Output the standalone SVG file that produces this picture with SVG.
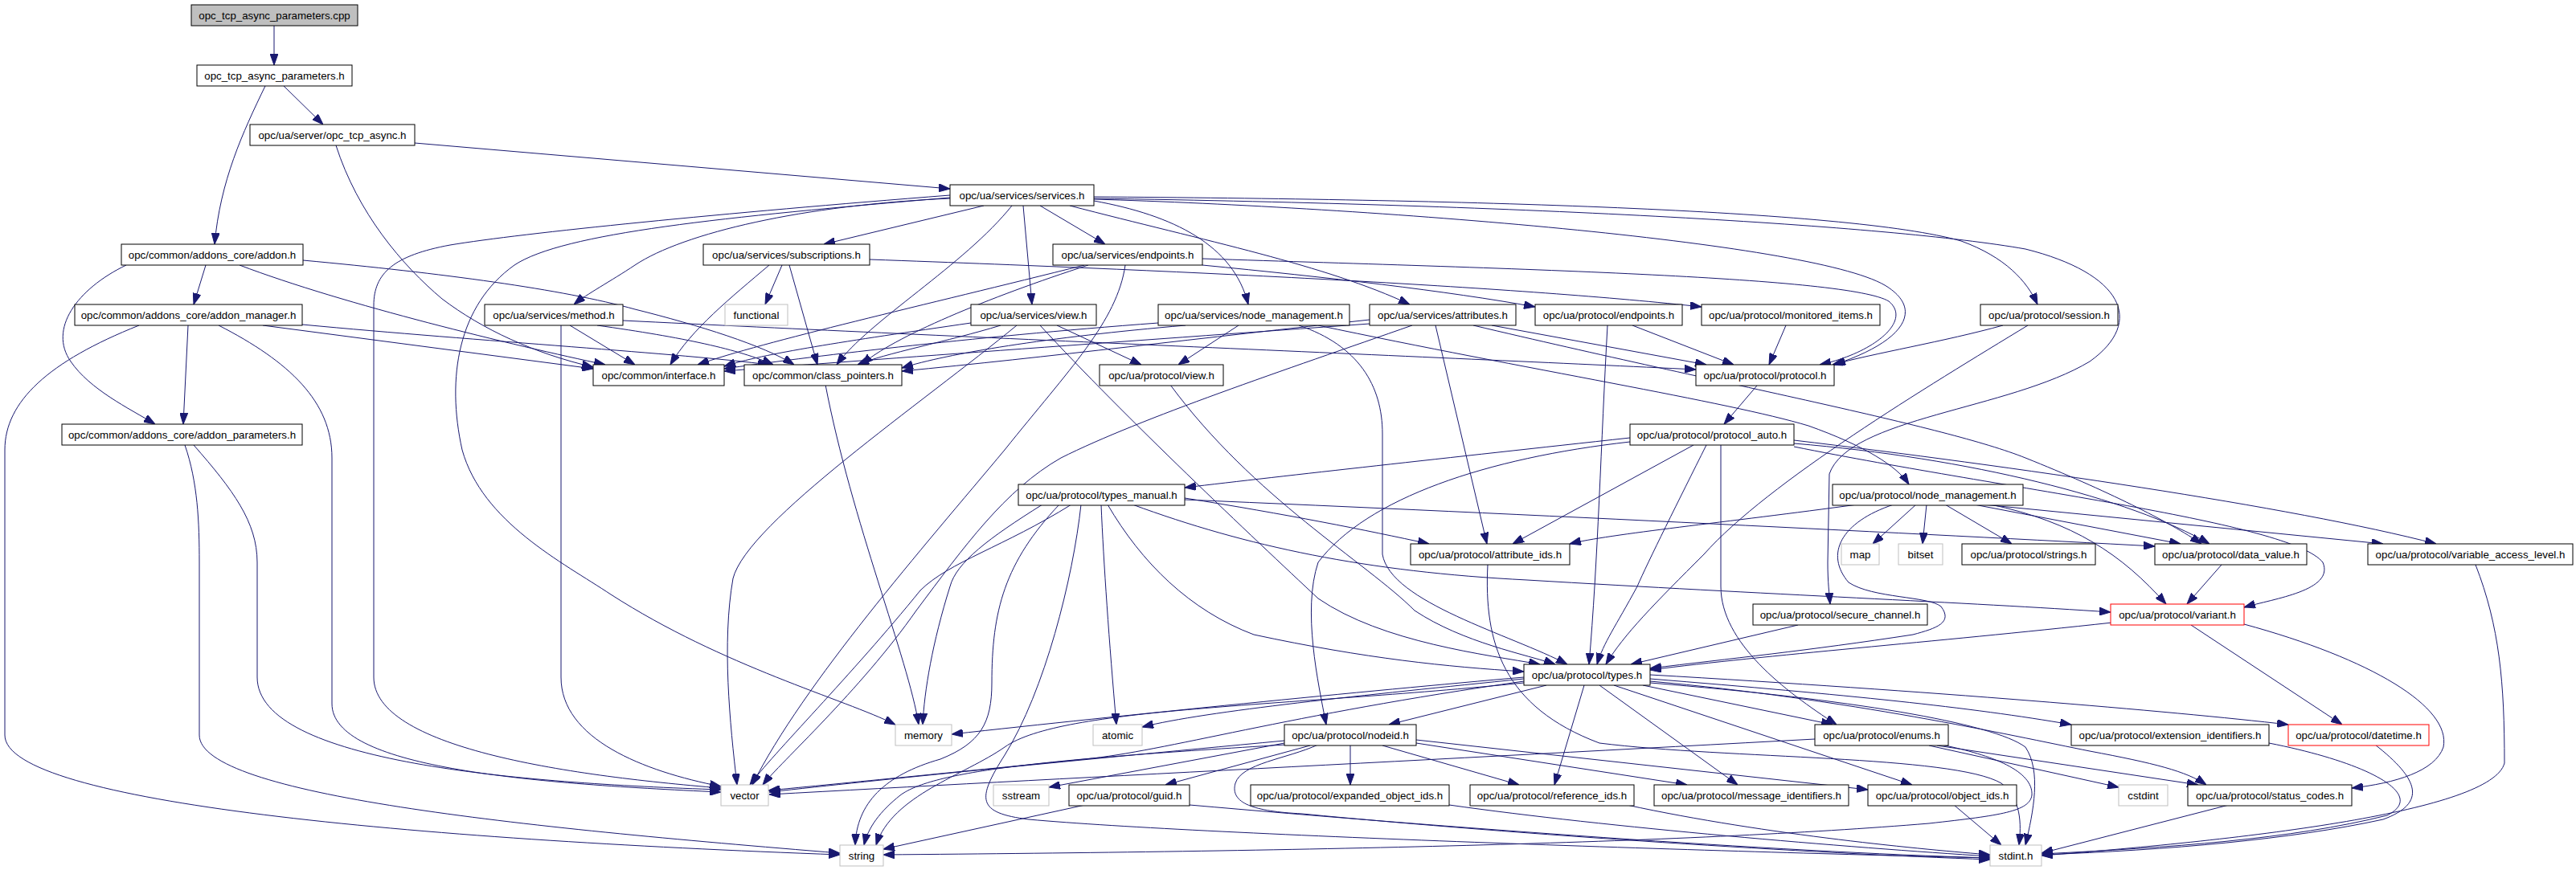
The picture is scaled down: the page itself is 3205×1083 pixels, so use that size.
<svg xmlns="http://www.w3.org/2000/svg" width="3205" height="1083" viewBox="0 0 3205 1083">
<defs>
<style>
.n rect{fill:#fff;stroke:#000;stroke-width:1}
.n.g rect{stroke:#bfbfbf}
.n.r rect{stroke:#ff0000}
.n.c rect{fill:#bfbfbf}
.n text{font-family:"Liberation Sans",Arial,sans-serif;font-size:13.3px;text-anchor:middle;fill:#000}
#edges path{fill:none;stroke:#191970;stroke-width:1;marker-end:url(#a)}
</style>
<marker id="a" viewBox="0 0 14 10" refX="14" refY="5" markerWidth="14" markerHeight="10" orient="auto" markerUnits="userSpaceOnUse"><path d="M0,0 L14,5 L0,10 z" fill="#191970" stroke="#191970" stroke-width="1"/></marker>
</defs>
<rect width="3205" height="1083" fill="#fff"/>
<g id="edges">
<path d="M341,32 L341,81"/>
<path d="M353,107 L402,155"/>
<path d="M330,107 C302,165 274,225 267,304"/>
<path d="M516,178 L1182,235"/>
<path d="M418,181 C445,265 500,330 550,372 C600,410 665,440 738,457"/>
<path d="M256,330 L241,379"/>
<path d="M157,330 C95,360 60,410 88,450 C112,485 160,508 193,528"/>
<path d="M298,330 C430,380 640,430 753,454"/>
<path d="M377,324 C550,340 700,360 790,385 C870,405 950,430 988,454"/>
<path d="M234,405 L228,528"/>
<path d="M173,405 C60,450 6,500 6,560 L6,915 C6,1000 520,1045 1045,1064"/>
<path d="M272,405 C360,450 413,500 413,570 L413,876 C413,955 650,975 897,986"/>
<path d="M327,405 L738,459"/>
<path d="M376,404 C600,425 850,440 957,454"/>
<path d="M230,554 C246,600 248,650 248,700 L248,915 C248,990 650,1030 1045,1062"/>
<path d="M241,554 C290,610 320,650 320,700 L320,843 C320,950 650,975 897,983"/>
<path d="M1224,256 L1025,304"/>
<path d="M1294,256 L1375,304"/>
<path d="M1273,256 L1284,379"/>
<path d="M1361,250 C1460,268 1535,305 1553,379"/>
<path d="M1182,247 C1000,255 850,290 790,330 C760,350 730,366 714,379"/>
<path d="M1331,256 C1500,300 1650,330 1754,379"/>
<path d="M1361,245 C1800,248 2300,260 2440,300 C2495,320 2522,350 2535,379"/>
<path d="M1361,248 C1700,258 2250,300 2345,355 C2395,385 2370,425 2282,454"/>
<path d="M1361,247 C1900,255 2350,280 2520,310 C2640,340 2670,400 2600,450 C2500,510 2300,520 2276,590 L2274,700 C2274,725 2276,740 2277,752"/>
<path d="M1259,256 C1200,330 1080,400 1041,454"/>
<path d="M1182,243 C900,265 650,290 560,305 C490,318 465,340 465,380 L465,843 C465,930 700,965 897,981"/>
<path d="M1182,246 C900,270 700,290 640,330 C570,380 555,470 575,560 C600,650 700,700 760,740 C900,830 1050,870 1114,902"/>
<path d="M973,330 L952,379"/>
<path d="M957,330 C910,370 860,410 834,454"/>
<path d="M982,330 L1017,454"/>
<path d="M1082,323 C1500,338 1900,358 2117,382"/>
<path d="M1496,330 C1650,345 1800,362 1910,382"/>
<path d="M1496,322 C1900,335 2300,345 2350,375 C2380,400 2330,440 2264,454"/>
<path d="M1349,330 C1150,380 950,425 868,454"/>
<path d="M1354,330 C1230,370 1110,420 1072,454"/>
<path d="M1400,330 C1390,400 1330,460 1250,560 C1150,680 1000,850 936,977"/>
<path d="M698,405 L698,843 C698,920 800,960 897,979"/>
<path d="M709,405 L790,454"/>
<path d="M743,405 C850,420 920,435 962,454"/>
<path d="M775,399 C1200,420 1800,445 2110,460"/>
<path d="M1208,402 C1050,425 950,440 901,456"/>
<path d="M1245,405 C1180,425 1100,440 1067,454"/>
<path d="M1265,405 C1150,500 930,650 912,720 C898,800 908,900 917,977"/>
<path d="M1315,405 L1420,454"/>
<path d="M1294,405 C1400,520 1560,670 1640,745 C1720,800 1850,815 1916,827"/>
<path d="M1441,402 C1200,420 1000,445 901,459"/>
<path d="M1475,405 C1300,420 1180,440 1122,458"/>
<path d="M1541,405 L1466,454"/>
<path d="M1616,405 C1690,430 1720,480 1720,540 L1720,690 C1730,750 1880,790 1950,827"/>
<path d="M1640,405 C1900,460 2150,500 2250,530 C2320,555 2360,580 2375,603"/>
<path d="M1704,403 C1400,425 1050,450 901,462"/>
<path d="M1704,398 C1500,420 1300,445 1122,462"/>
<path d="M1786,405 L1850,677"/>
<path d="M1856,405 L2123,454"/>
<path d="M1757,405 C1600,460 1420,520 1320,570 C1250,610 1200,680 1140,760 C1070,860 970,950 949,977"/>
<path d="M1833,405 C2150,480 2420,530 2520,570 C2620,610 2700,650 2739,677"/>
<path d="M2492,405 C2420,425 2330,440 2280,454"/>
<path d="M2523,405 C2400,480 2200,600 2120,690 C2060,750 2020,790 1998,827"/>
<path d="M2031,405 L2157,454"/>
<path d="M2000,405 C1992,550 1988,700 1977,827"/>
<path d="M2222,405 L2201,454"/>
<path d="M2186,480 L2145,528"/>
<path d="M2028,545 C1800,570 1600,592 1474,607"/>
<path d="M2107,554 L1882,677"/>
<path d="M2123,554 C2090,620 2050,700 2037,730 C2010,780 1995,800 1987,827"/>
<path d="M2028,550 C1850,570 1700,620 1640,700 C1620,760 1640,850 1650,902"/>
<path d="M2141,554 L2141,730 C2141,800 2220,860 2285,902"/>
<path d="M2232,548 C2500,580 2850,630 3031,677"/>
<path d="M2232,552 C2450,570 2650,620 2749,677"/>
<path d="M2232,556 C2500,610 2850,650 2890,700 C2905,735 2830,745 2792,756"/>
<path d="M1474,620 C1600,640 1700,660 1778,677"/>
<path d="M1474,622 C1900,640 2400,665 2681,680"/>
<path d="M1409,628 C1550,680 1700,712 1900,722 C2200,740 2450,750 2626,762"/>
<path d="M1378,628 C1420,700 1480,760 1560,790 C1700,820 1800,830 1896,836"/>
<path d="M1297,628 C1230,670 1190,700 1182,730 C1160,800 1150,860 1148,902"/>
<path d="M1370,628 C1373,700 1380,800 1389,902"/>
<path d="M1333,628 C1250,680 1180,700 1145,735 C1060,840 960,940 933,977"/>
<path d="M1318,628 C1250,700 1234,760 1234,850 C1234,900 1220,925 1170,945 C1100,965 1066,1000 1064,1052"/>
<path d="M1345,628 C1335,720 1300,860 1250,940 C1215,995 1215,1012 1280,1020 C1500,1040 2200,1062 2476,1068"/>
<path d="M2311,628 C2150,650 2000,665 1953,677"/>
<path d="M2384,628 L2330,677"/>
<path d="M2397,628 L2392,677"/>
<path d="M2420,628 L2503,677"/>
<path d="M2456,628 L2713,677"/>
<path d="M2467,628 L2965,677"/>
<path d="M2477,628 C2580,650 2640,690 2695,752"/>
<path d="M2356,628 C2290,650 2270,690 2300,725 C2330,745 2400,742 2415,755 C2430,775 2410,782 2380,790 C2250,810 2150,820 2053,832"/>
<path d="M2764,703 L2721,752"/>
<path d="M3080,703 C3110,780 3116,850 3116,950 C3100,1010 2800,1045 2540,1065"/>
<path d="M2237,778 L2029,827"/>
<path d="M2628,775 C2400,800 2200,815 2053,834"/>
<path d="M2726,778 L2914,902"/>
<path d="M2792,777 C2950,820 3050,880 3040,930 C3030,960 2980,975 2926,981"/>
<path d="M1896,843 C1700,860 1400,890 1184,914"/>
<path d="M1896,845 C1700,865 1500,885 1421,905"/>
<path d="M1896,848 C1600,890 1450,935 1350,945 C1200,960 1050,975 956,984"/>
<path d="M1896,850 C1600,880 1320,880 1250,930 C1200,965 1110,990 1090,1052"/>
<path d="M1924,853 L1728,902"/>
<path d="M1971,853 L1934,977"/>
<path d="M1990,853 L2162,977"/>
<path d="M2008,853 L2379,977"/>
<path d="M2044,853 L2280,902"/>
<path d="M2053,845 C2300,865 2450,880 2577,902"/>
<path d="M2053,840 C2400,860 2700,885 2847,902"/>
<path d="M2053,848 C2300,870 2500,915 2600,935 C2680,950 2720,960 2745,977"/>
<path d="M2053,850 C2300,870 2480,900 2520,930 C2540,960 2530,1010 2520,1052"/>
<path d="M1680,928 L1680,977"/>
<path d="M1720,928 L1890,977"/>
<path d="M1762,925 L2099,977"/>
<path d="M1762,921 L2324,983"/>
<path d="M1630,928 L1450,977"/>
<path d="M1598,925 L1305,980"/>
<path d="M1598,922 C1300,950 1100,970 957,986"/>
<path d="M1600,927 C1300,945 1160,960 1120,990 C1095,1010 1080,1030 1075,1052"/>
<path d="M1640,927 C1600,945 1545,950 1537,975 C1530,1000 1560,1010 1620,1013 C1900,1040 2250,1062 2476,1070"/>
<path d="M2258,920 C1800,945 1300,970 957,989"/>
<path d="M2415,927 C2480,940 2530,960 2528,990 C2525,1010 2490,1015 2400,1025 C2100,1050 1600,1060 1099,1064"/>
<path d="M2400,928 L2636,980"/>
<path d="M2410,928 L2735,977"/>
<path d="M1851,703 C1846,800 1870,880 1990,925 C2150,945 2430,940 2490,975 C2515,995 2515,1025 2512,1052"/>
<path d="M2431,1002 L2490,1052"/>
<path d="M2773,1002 L2540,1062"/>
<path d="M2823,925 C2950,950 3020,990 2970,1015 C2850,1045 2700,1055 2540,1063"/>
<path d="M2955,927 C3010,970 3020,1000 2965,1020 C2850,1045 2700,1058 2540,1064"/>
<path d="M2024,1002 C2200,1040 2400,1058 2476,1064"/>
<path d="M1803,1002 C2000,1030 2300,1055 2476,1066"/>
<path d="M1480,1002 C1800,1030 2200,1060 2476,1068"/>
<path d="M1350,1002 L1099,1057"/>
<path d="M1027,479 C1060,650 1130,820 1143,902"/>
<path d="M1456,479 C1560,620 1700,700 1760,760 C1820,800 1900,815 1935,827"/>
</g>
<g id="n0" class="n c"><rect x="238" y="6" width="207" height="26"/><text x="341.5" y="23.8">opc_tcp_async_parameters.cpp</text></g>
<g id="n1" class="n"><rect x="245" y="81" width="193" height="26"/><text x="341.5" y="98.8">opc_tcp_async_parameters.h</text></g>
<g id="n2" class="n"><rect x="311" y="155" width="205" height="26"/><text x="413.5" y="172.8">opc/ua/server/opc_tcp_async.h</text></g>
<g id="n3" class="n"><rect x="1182" y="230" width="179" height="26"/><text x="1271.5" y="247.8">opc/ua/services/services.h</text></g>
<g id="n4" class="n"><rect x="151" y="304" width="226" height="26"/><text x="264" y="321.8">opc/common/addons_core/addon.h</text></g>
<g id="n5" class="n"><rect x="875" y="304" width="207" height="26"/><text x="978.5" y="321.8">opc/ua/services/subscriptions.h</text></g>
<g id="n6" class="n"><rect x="1310" y="304" width="186" height="26"/><text x="1403" y="321.8">opc/ua/services/endpoints.h</text></g>
<g id="n7" class="n"><rect x="2464" y="379" width="171" height="26"/><text x="2549.5" y="396.8">opc/ua/protocol/session.h</text></g>
<g id="n8" class="n"><rect x="93" y="379" width="283" height="26"/><text x="234.5" y="396.8">opc/common/addons_core/addon_manager.h</text></g>
<g id="n9" class="n"><rect x="603" y="379" width="172" height="26"/><text x="689" y="396.8">opc/ua/services/method.h</text></g>
<g id="n10" class="n g"><rect x="902" y="379" width="78" height="26"/><text x="941" y="396.8">functional</text></g>
<g id="n11" class="n"><rect x="1208" y="379" width="156" height="26"/><text x="1286" y="396.8">opc/ua/services/view.h</text></g>
<g id="n12" class="n"><rect x="1441" y="379" width="238" height="26"/><text x="1560" y="396.8">opc/ua/services/node_management.h</text></g>
<g id="n13" class="n"><rect x="1704" y="379" width="182" height="26"/><text x="1795" y="396.8">opc/ua/services/attributes.h</text></g>
<g id="n14" class="n"><rect x="1910" y="379" width="183" height="26"/><text x="2001.5" y="396.8">opc/ua/protocol/endpoints.h</text></g>
<g id="n15" class="n"><rect x="2117" y="379" width="222" height="26"/><text x="2228" y="396.8">opc/ua/protocol/monitored_items.h</text></g>
<g id="n16" class="n"><rect x="738" y="454" width="163" height="26"/><text x="819.5" y="471.8">opc/common/interface.h</text></g>
<g id="n17" class="n"><rect x="926" y="454" width="196" height="26"/><text x="1024" y="471.8">opc/common/class_pointers.h</text></g>
<g id="n18" class="n"><rect x="1368" y="454" width="154" height="26"/><text x="1445" y="471.8">opc/ua/protocol/view.h</text></g>
<g id="n19" class="n"><rect x="2110" y="454" width="172" height="26"/><text x="2196" y="471.8">opc/ua/protocol/protocol.h</text></g>
<g id="n20" class="n"><rect x="77" y="528" width="299" height="26"/><text x="226.5" y="545.8">opc/common/addons_core/addon_parameters.h</text></g>
<g id="n21" class="n"><rect x="2028" y="528" width="204" height="26"/><text x="2130" y="545.8">opc/ua/protocol/protocol_auto.h</text></g>
<g id="n22" class="n"><rect x="1267" y="603" width="207" height="26"/><text x="1370.5" y="620.8">opc/ua/protocol/types_manual.h</text></g>
<g id="n23" class="n"><rect x="2280" y="603" width="237" height="26"/><text x="2398.5" y="620.8">opc/ua/protocol/node_management.h</text></g>
<g id="n24" class="n"><rect x="1755" y="677" width="198" height="26"/><text x="1854" y="694.8">opc/ua/protocol/attribute_ids.h</text></g>
<g id="n25" class="n g"><rect x="2291" y="677" width="47" height="26"/><text x="2314.5" y="694.8">map</text></g>
<g id="n26" class="n g"><rect x="2362" y="677" width="55" height="26"/><text x="2389.5" y="694.8">bitset</text></g>
<g id="n27" class="n"><rect x="2441" y="677" width="166" height="26"/><text x="2524" y="694.8">opc/ua/protocol/strings.h</text></g>
<g id="n28" class="n"><rect x="2681" y="677" width="189" height="26"/><text x="2775.5" y="694.8">opc/ua/protocol/data_value.h</text></g>
<g id="n29" class="n"><rect x="2946" y="677" width="255" height="26"/><text x="3073.5" y="694.8">opc/ua/protocol/variable_access_level.h</text></g>
<g id="n30" class="n"><rect x="2181" y="752" width="217" height="26"/><text x="2289.5" y="769.8">opc/ua/protocol/secure_channel.h</text></g>
<g id="n31" class="n r"><rect x="2626" y="752" width="166" height="26"/><text x="2709" y="769.8">opc/ua/protocol/variant.h</text></g>
<g id="n32" class="n"><rect x="1896" y="827" width="157" height="26"/><text x="1974.5" y="844.8">opc/ua/protocol/types.h</text></g>
<g id="n33" class="n g"><rect x="1114" y="902" width="70" height="26"/><text x="1149" y="919.8">memory</text></g>
<g id="n34" class="n g"><rect x="1360" y="902" width="61" height="26"/><text x="1390.5" y="919.8">atomic</text></g>
<g id="n35" class="n"><rect x="1598" y="902" width="164" height="26"/><text x="1680" y="919.8">opc/ua/protocol/nodeid.h</text></g>
<g id="n36" class="n"><rect x="2258" y="902" width="166" height="26"/><text x="2341" y="919.8">opc/ua/protocol/enums.h</text></g>
<g id="n37" class="n"><rect x="2577" y="902" width="246" height="26"/><text x="2700" y="919.8">opc/ua/protocol/extension_identifiers.h</text></g>
<g id="n38" class="n r"><rect x="2847" y="902" width="175" height="26"/><text x="2934.5" y="919.8">opc/ua/protocol/datetime.h</text></g>
<g id="n39" class="n g"><rect x="897" y="977" width="59" height="26"/><text x="926.5" y="994.8">vector</text></g>
<g id="n40" class="n g"><rect x="1236" y="977" width="69" height="26"/><text x="1270.5" y="994.8">sstream</text></g>
<g id="n41" class="n"><rect x="1330" y="977" width="150" height="26"/><text x="1405" y="994.8">opc/ua/protocol/guid.h</text></g>
<g id="n42" class="n"><rect x="1556" y="977" width="247" height="26"/><text x="1679.5" y="994.8">opc/ua/protocol/expanded_object_ids.h</text></g>
<g id="n43" class="n"><rect x="1829" y="977" width="204" height="26"/><text x="1931" y="994.8">opc/ua/protocol/reference_ids.h</text></g>
<g id="n44" class="n"><rect x="2058" y="977" width="242" height="26"/><text x="2179" y="994.8">opc/ua/protocol/message_identifiers.h</text></g>
<g id="n45" class="n"><rect x="2324" y="977" width="185" height="26"/><text x="2416.5" y="994.8">opc/ua/protocol/object_ids.h</text></g>
<g id="n46" class="n g"><rect x="2636" y="977" width="61" height="26"/><text x="2666.5" y="994.8">cstdint</text></g>
<g id="n47" class="n"><rect x="2722" y="977" width="204" height="26"/><text x="2824" y="994.8">opc/ua/protocol/status_codes.h</text></g>
<g id="n48" class="n g"><rect x="1045" y="1052" width="54" height="26"/><text x="1072" y="1069.8">string</text></g>
<g id="n49" class="n g"><rect x="2476" y="1052" width="64" height="26"/><text x="2508" y="1069.8">stdint.h</text></g>
</svg>
